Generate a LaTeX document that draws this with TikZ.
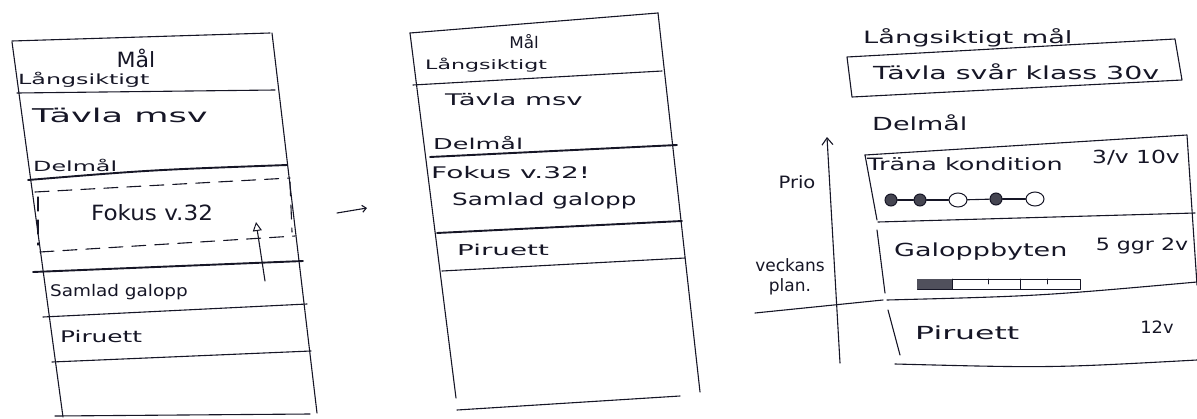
\documentclass[tikz,border=0pt]{standalone}
\usepackage{fontspec}
\setmainfont{DejaVu Sans}
\usepackage{graphicx}
\usetikzlibrary{arrows.meta,shapes.geometric}
\definecolor{ink}{RGB}{22,22,38}
\newcommand{\hwt}[3]{\fontsize{#1pt}{#1pt}\selectfont\scalebox{#2}[1]{#3}}
\begin{document}
\begin{tikzpicture}[x=1pt,y=-1pt,
  pen/.style={draw=ink, line width=1.1pt, line cap=round, line join=round},
  penbold/.style={pen, line width=1.9pt},
  pendash/.style={pen, dash pattern=on 14pt off 9pt},
  lbl/.style={inner sep=0pt, text=ink, anchor=west},
  clbl/.style={inner sep=0pt, text=ink, anchor=center},
  fulldot/.style={circle, draw=ink, line width=1pt, fill=ink!80, minimum size=12pt, inner sep=0pt},
  opendot/.style={ellipse, draw=ink, line width=1pt, minimum width=18pt, minimum height=14pt, inner sep=0pt},
]
\useasboundingbox (0,0) rectangle (1197,418);

% ---------------- Left panel ----------------
\draw[pen] (12,41) -- (270,33);
\draw[pen] (12,42) -- (63,417);
\draw[pen] (272,33) -- (317,413);
\draw[pen] (17,93) -- (275,90);
\draw[penbold] (28,180) .. controls (150,170) .. (287,165);
\draw[pendash] (35,192) -- (290,178);
\draw[pendash] (38,197) -- (38,245);
\draw[pendash] (40,252) -- (295,236);
\draw[pendash] (290,182) -- (292,232);
\draw[penbold] (33,272) -- (303,261);
\draw[pen] (43,317) -- (307,304);
\draw[pen] (52,362) -- (311,351);
\draw[pen] (55,416) -- (310,414);

\node[clbl] (lmal) at (136,58) {\hwt{21}{1.05}{Mål}};
\node[lbl] (llang) at (18,80) {\hwt{14}{1.7}{Långsiktigt}};
\node[lbl] (ltavla) at (32,115) {\hwt{19}{1.85}{Tävla msv}};
\node[lbl] (ldelmal) at (33,165) {\hwt{14}{1.7}{Delmål}};
\node[clbl] (lfokus) at (152,213) {\hwt{21}{1.1}{Fokus v.32}};
\node[lbl] (lsamlad) at (50,292) {\hwt{16}{1.15}{Samlad galopp}};
\node[lbl] (lpir) at (60,337) {\hwt{16}{1.55}{Piruett}};

\coordinate (la1) at (265,281);
\coordinate (la2) at (256,222);
\draw[pen, -{Triangle[open, length=9pt, width=9pt, line width=1pt]}] (la1) -- (la2);

% arrow between panels
\coordinate (ma1) at (337,213);
\coordinate (ma2) at (367,208);
\draw[pen, -{Straight Barb[length=4pt, width=7pt]}] (ma1) -- (ma2);

% ---------------- Middle panel ----------------
\draw[pen] (410,33) -- (658,13);
\draw[pen] (410,33) -- (456,398);
\draw[pen] (658,13) -- (700,392);
\draw[pen] (457,410) -- (680,396);
\draw[pen] (413,85) -- (662,71);
\draw[penbold] (430,157) -- (677,145);
\draw[penbold] (437,233) -- (682,221);
\draw[pen] (442,271) -- (685,258);

\node[clbl] (mmal) at (524,42) {\hwt{16}{1.05}{Mål}};
\node[lbl] (mlang) at (425,65) {\hwt{13}{1.7}{Långsiktigt}};
\node[lbl] (mtavla) at (445,100) {\hwt{16}{1.72}{Tävla msv}};
\node[lbl] (mdelmal) at (433,143) {\hwt{15}{1.7}{Delmål}};
\node[lbl] (mfokus) at (431,173) {\hwt{16}{1.75}{Fokus v.32!}};
\node[lbl] (msamlad) at (452,201) {\hwt{17}{1.45}{Samlad galopp}};
\node[lbl] (mpir) at (457,250) {\hwt{15}{1.85}{Piruett}};

% ---------------- Right panel ----------------
\node[lbl] (rlang) at (863,38) {\hwt{17}{1.6}{Långsiktigt mål}};
\draw[pen] (847,57) -- (1175,39) -- (1182,80) -- (852,97) -- cycle;
\node[lbl] (rtavla) at (873,72) {\hwt{18}{1.58}{Tävla svår klass 30v}};
\node[lbl] (rdelmal) at (872,123) {\hwt{18}{1.5}{Delmål}};

% Träna kondition box
\draw[pen] (865,155) -- (1187,135) -- (1197,285);
\draw[pen] (865,155) -- (877,220);
\draw[pen] (878,222) -- (1195,213);
\node[lbl] (rtrana) at (867,164) {\hwt{17}{1.5}{Träna kondition}};
\node[clbl] (rtrfreq) at (1136,158) {\hwt{18}{1.3}{3/v 10v}};

\node[fulldot] (c1) at (891,200) {};
\node[fulldot] (c2) at (920,200) {};
\node[opendot] (c3) at (958,200) {};
\node[fulldot] (c4) at (996,199) {};
\node[opendot] (c5) at (1035,199) {};
\draw[pen] (c1) -- (c2);
\draw[pen] (c2) -- (c3);
\draw[pen] (c3) -- (c4);
\draw[pen] (c4) -- (c5);

% Galoppbyten box
\draw[pen] (877,230) -- (885,293);
\draw[pen] (887,300) .. controls (1040,296) .. (1197,282);
\node[lbl] (rgal) at (894,252) {\hwt{18}{1.5}{Galoppbyten}};
\node[clbl] (rgalfreq) at (1142,246) {\hwt{17}{1.3}{5 ggr 2v}};
\draw[pen, line width=0.9pt] (917,279) rectangle (1080,289);
\fill[ink!75] (917,279) rectangle (952,289);
\draw[pen, line width=0.9pt] (952,279) -- (952,289);
\draw[pen, line width=0.9pt] (988,279) -- (988,284);
\draw[pen, line width=0.9pt] (1020,279) -- (1020,289);
\draw[pen, line width=0.9pt] (1047,279) -- (1047,284);

% Piruett box
\draw[pen] (888,310) -- (900,355);
\draw[pen] (895,364) .. controls (1050,368) .. (1197,360);
\node[lbl] (rpir) at (915,333) {\hwt{18}{1.75}{Piruett}};
\node[clbl] (rpirfreq) at (1157,327) {\hwt{17}{1.05}{12v}};

% Prio axis
\coordinate (pa1) at (840,363);
\coordinate (pa2) at (827,137);
\draw[pen, -{Straight Barb[length=7pt, width=11pt]}] (pa1) -- (pa2);
\node[clbl] (rprio) at (797,182) {\hwt{17}{1.15}{Prio}};
\node[clbl, align=center, font=\fontsize{17pt}{20pt}\selectfont] (rveck) at (790,277) {veckans\\plan.};
\draw[pen] (755,313) -- (883,300);
\end{tikzpicture}
\end{document}
